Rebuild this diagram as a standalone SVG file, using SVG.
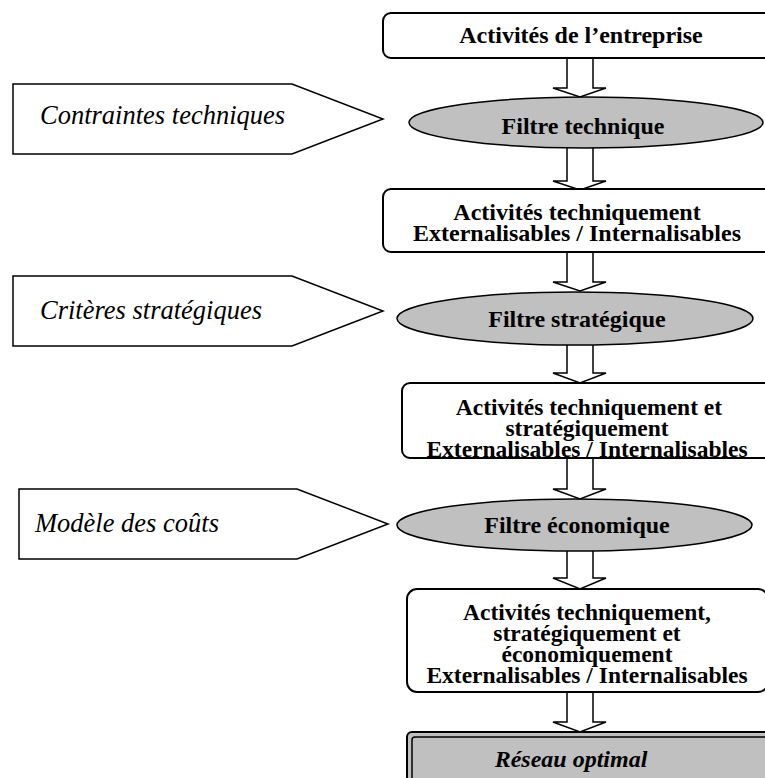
<svg xmlns="http://www.w3.org/2000/svg" width="765" height="778" viewBox="0 0 765 778">
<style>
.box{fill:#fff;stroke:#000;stroke-width:2}
.flt{fill:#c0c0c0;stroke:#000;stroke-width:1.5}
.pent{fill:#fff;stroke:#000;stroke-width:1.5}
.arr{fill:#fff;stroke:#000;stroke-width:1.5;stroke-linejoin:miter}
.b{font-family:"Liberation Serif","Times New Roman",serif;font-weight:bold;font-size:24px;text-anchor:middle;fill:#000}
.bs{font-family:"Liberation Serif","Times New Roman",serif;font-weight:bold;font-size:23.5px;text-anchor:middle;fill:#000}
.bi{font-family:"Liberation Serif","Times New Roman",serif;font-weight:bold;font-style:italic;font-size:24px;text-anchor:middle;fill:#000}
.it{font-family:"Liberation Serif","Times New Roman",serif;font-style:italic;font-size:26.5px;fill:#000}
</style>
<rect width="765" height="778" fill="#fff"/>
<g id="connectors">
<path class="arr" d="M567,58 V88 H553 L580,97 L606,88 H593 V58"/>
<path class="arr" d="M567,148 V181 H553 L580,190 L606,181 H593 V148"/>
<path class="arr" d="M567,252 V282 H553 L580,291 L606,282 H593 V252"/>
<path class="arr" d="M567,345 V373 H553 L580,383 L606,373 H593 V345"/>
<path class="arr" d="M567,458 V489 H553 L580,499 L606,489 H593 V458"/>
<path class="arr" d="M567,551 V578 H553 L580,589 L606,578 H593 V551"/>
<path class="arr" d="M567,692 V722 H553 L580,732 L606,722 H593 V692"/>
</g>
<g id="n-contraintes">
<polygon class="pent" points="13,84 292,84 383,119 292,154 13,154"/>
<text class="it" x="40" y="124">Contraintes techniques</text>
</g>
<g id="n-criteres">
<polygon class="pent" points="13,276 292,276 383,311 292,346 13,346"/>
<text class="it" x="40" y="319">Critères stratégiques</text>
</g>
<g id="n-modele">
<polygon class="pent" points="19,489 297,489 388,524 297,559 19,559"/>
<text class="it" x="35" y="532">Modèle des coûts</text>
</g>
<g id="n-activites">
<rect class="box" x="383" y="13" width="400" height="45" rx="8"/>
<text class="b" x="581" y="43">Activités de l’entreprise</text>
</g>
<g id="n-filtre-tech">
<ellipse class="flt" cx="586" cy="122.5" rx="177" ry="25.5"/>
<text class="b" x="583" y="134">Filtre technique</text>
</g>
<g id="n-act-tech">
<rect class="box" x="383" y="189" width="400" height="63" rx="8"/>
<text class="b" x="577" y="220">Activités techniquement</text>
<text class="b" x="577" y="241">Externalisables / Internalisables</text>
</g>
<g id="n-filtre-strat">
<ellipse class="flt" cx="575" cy="318.5" rx="178" ry="26.5"/>
<text class="b" x="577" y="327">Filtre stratégique</text>
</g>
<g id="n-act-strat">
<rect class="box" x="402" y="383" width="400" height="75" rx="8"/>
<text class="bs" x="589" y="415">Activités techniquement et</text>
<text class="bs" x="587" y="436">stratégiquement</text>
<text class="bs" x="587" y="457">Externalisables / Internalisables</text>
</g>
<g id="n-filtre-eco">
<ellipse class="flt" cx="574.5" cy="525" rx="177.5" ry="26"/>
<text class="b" x="577" y="533">Filtre économique</text>
</g>
<g id="n-act-eco">
<rect class="box" x="407" y="589" width="361" height="103" rx="10"/>
<text class="bs" x="587" y="620">Activités techniquement,</text>
<text class="bs" x="587" y="641">stratégiquement et</text>
<text class="bs" x="587" y="662">économiquement</text>
<text class="bs" x="587" y="683">Externalisables / Internalisables</text>
</g>
<g id="n-reseau">
<rect x="407" y="732" width="400" height="80" rx="5" fill="#c0c0c0" stroke="#000" stroke-width="2"/>
<rect x="412" y="737" width="400" height="80" rx="3" fill="none" stroke="#000" stroke-width="1.5"/>
<text class="bi" x="571" y="767">Réseau optimal</text>
</g>
</svg>
